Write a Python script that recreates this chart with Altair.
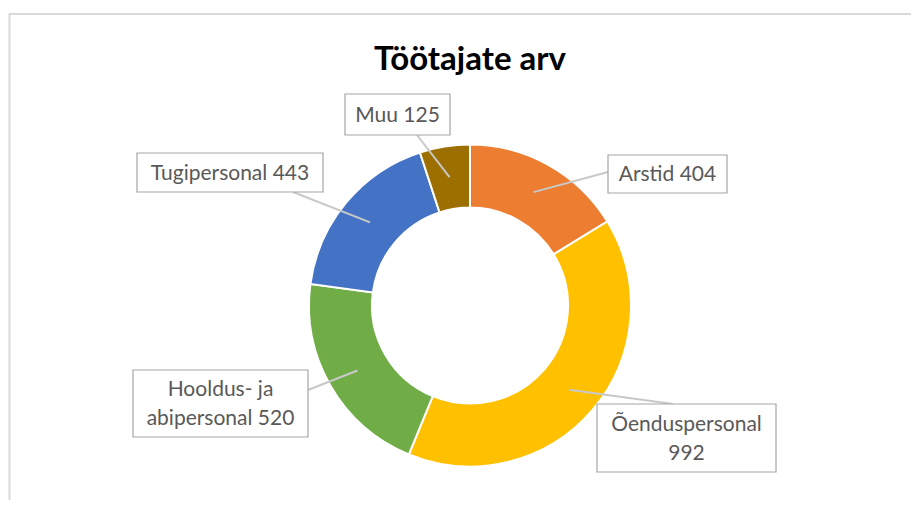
import math
import altair as alt
import pandas as pd

# ---- data ----
categories = ["Arstid", "Õenduspersonal", "Hooldus- ja abipersonal", "Tugipersonal", "Muu"]
values = [404, 992, 520, 443, 125]
colors = ["#ED7D31", "#FFC000", "#70AD47", "#4472C4", "#9C6F00"]
title_text = "Töötajate arv"

# ---- layout (pixel positions inside the view) ----
W, H = 903, 492
CX, CY = 462, 297.5
R_IN, R_OUT = 98, 161
R_LEAD = 130
LINE_H = 29
# label box corners (x0, y0, x1, y1), leader attach point on the box, word split
box_layout = {
    "Arstid": ((600, 147, 719, 185), (600, 164), None),
    "Õenduspersonal": ((589, 396, 768, 464), (665, 396), 1),
    "Hooldus- ja abipersonal": ((125, 362, 300, 429), (300, 382), 2),
    "Tugipersonal": ((129, 145, 315, 184), (285, 184), None),
    "Muu": ((337, 86, 442, 127), (409, 127), None),
}


def label_text(cat, val, split_words):
    words = f"{cat} {val}".split(" ")
    if split_words is None:
        return " ".join(words)
    return " ".join(words[:split_words]) + "\n" + " ".join(words[split_words:])


total = sum(values)
rows = []
cum = 0
for i, (c, v) in enumerate(zip(categories, values)):
    mid = 2 * math.pi * (cum + v / 2) / total
    cum += v
    (bx0, by0, bx1, by1), (ax, ay), split = box_layout[c]
    lab = label_text(c, v, split)
    nlines = lab.count("\n") + 1
    rows.append(dict(
        idx=i, category=c, value=v,
        lx=CX + R_LEAD * math.sin(mid), ly=CY - R_LEAD * math.cos(mid),
        ax=ax, ay=ay, bx0=bx0, by0=by0, bx1=bx1, by1=by1,
        tx=(bx0 + bx1) / 2, ty=(by0 + by1) / 2 + 1 - (nlines - 1) * LINE_H / 2,
        label=lab,
    ))
df = pd.DataFrame(rows)

FONT = "Lato"

frame = alt.Chart(pd.DataFrame({"a": [0]})).mark_rect(
    fill="white", stroke="#D9D9D9", strokeWidth=2
).encode(x=alt.value(1.5), y=alt.value(6), x2=alt.value(W + 50), y2=alt.value(H + 50))

donut = alt.Chart(df).mark_arc(
    innerRadius=R_IN, outerRadius=R_OUT, stroke="white", strokeWidth=2
).encode(
    theta=alt.Theta("value:Q", stack=True),
    order=alt.Order("idx:Q"),
    color=alt.Color("category:N", scale=alt.Scale(domain=categories, range=colors), legend=None),
    x=alt.value(CX), y=alt.value(CY),
)

leaders = alt.Chart(df).mark_rule(color="#C8C8C8", strokeWidth=2).encode(
    x=alt.X("lx:Q", scale=None, axis=None),
    y=alt.Y("ly:Q", scale=None, axis=None),
    x2="ax:Q", y2="ay:Q",
)

boxes = alt.Chart(df).mark_rect(fill="white", stroke="#A6A6A6", strokeWidth=1.2).encode(
    x=alt.X("bx0:Q", scale=None, axis=None),
    y=alt.Y("by0:Q", scale=None, axis=None),
    x2="bx1:Q", y2="by1:Q",
)

texts = alt.Chart(df).mark_text(
    font=FONT, fontSize=21, color="#595959", align="center", baseline="middle",
    lineBreak="\n", lineHeight=LINE_H,
).encode(
    x=alt.X("tx:Q", scale=None, axis=None),
    y=alt.Y("ty:Q", scale=None, axis=None),
    text="label:N",
)

title = alt.Chart(pd.DataFrame({"t": [title_text]})).mark_text(
    font=FONT, fontSize=33, fontWeight="bold", color="#000000", align="center", baseline="alphabetic"
).encode(x=alt.value(CX), y=alt.value(62), text="t:N")

chart = alt.layer(frame, donut, leaders, boxes, texts, title).properties(
    width=W, height=H, padding=0, autosize=alt.AutoSizeParams(type="none")
).configure_view(stroke=None)

chart.save("out.html", embed_options={"renderer": "svg", "actions": False})
